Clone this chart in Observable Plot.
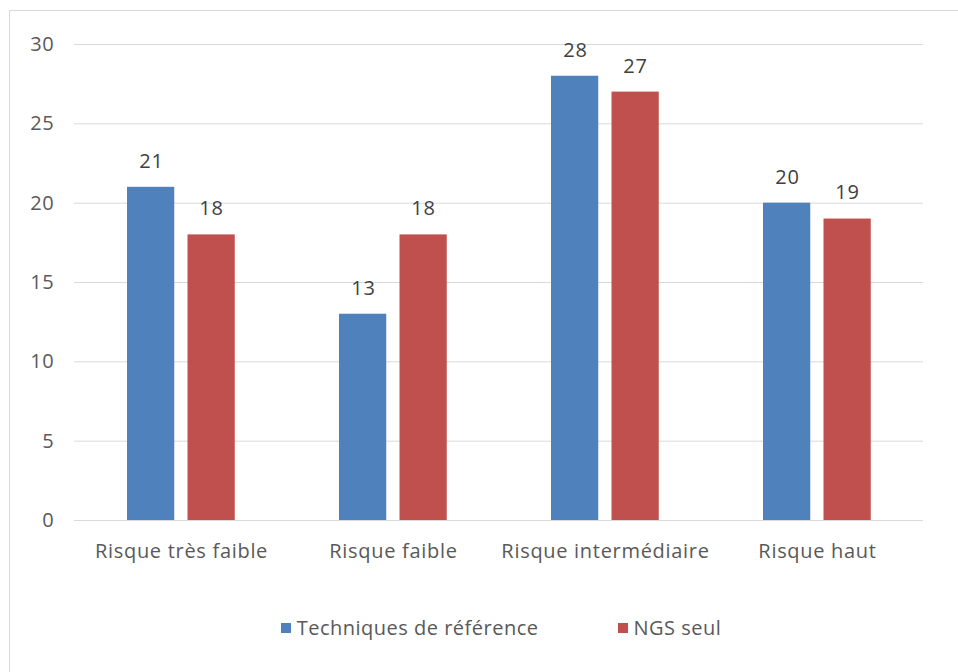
<!DOCTYPE html>
<html>
<head>
<meta charset="utf-8">
<script src="https://cdn.jsdelivr.net/npm/d3@7"></script>
<script src="https://cdn.jsdelivr.net/npm/@observablehq/plot@0.6"></script>
<style>
  html, body { margin: 0; padding: 0; background: #fff; overflow: hidden; width: 958px; height: 672px; }
  #frame { position: absolute; left: 9px; top: 10px; width: 1000px; height: 700px; border: 1px solid #d9d9d9; box-sizing: border-box; }
  #chart { position: absolute; left: 0; top: 0; }
  #legend { position: absolute; left: 0; top: 614px; width: 958px; box-sizing: border-box; padding-left: 44px;
            display: flex; justify-content: center; gap: 79px;
            font-family: "Open Sans", sans-serif; font-size: 20px; color: #595959; line-height: 28px; letter-spacing: 0.5px; }
  .item { display: flex; align-items: center; gap: 6px; }
  .sw { width: 10px; height: 10px; display: inline-block; }
</style>
</head>
<body>
<div id="frame"></div>
<div id="chart"></div>
<div id="legend"></div>
<script>
const categories = ["Risque très faible", "Risque faible", "Risque intermédiaire", "Risque haut"];
const seriesNames = ["Techniques de référence", "NGS seul"];
const reference = [21, 13, 28, 20];
const ngs = [18, 18, 27, 19];
const yTicks = [0, 5, 10, 15, 20, 25, 30];
const colors = ["#4F81BD", "#C0504D"];

const refData = categories.map((c, i) => ({category: c, value: reference[i]}));
const ngsData = categories.map((c, i) => ({category: c, value: ngs[i]}));

const font = "'Open Sans', sans-serif";

const chart = Plot.plot({
  width: 958,
  height: 580,
  marginLeft: 74,
  marginRight: 35,
  marginTop: 44,
  marginBottom: 60,
  style: {fontFamily: font, fontSize: "20px", color: "#595959", background: "transparent", letterSpacing: "0.7px"},
  x: {domain: categories, padding: 0, label: null},
  y: {domain: [0, 30], label: null},
  marks: [
    Plot.gridY(yTicks, {stroke: "#d9d9d9", strokeOpacity: 1}),
    Plot.axisY(yTicks, {tickSize: 0, tickPadding: 20, fontSize: 20, fill: "#595959", label: null}),
    Plot.axisX({tickSize: 0, tickPadding: 23, fontSize: 20, fill: "#595959", label: null}),
    Plot.barY(refData, {x: "category", y: "value", fill: colors[0], insetLeft: 52, insetRight: 112.75}),
    Plot.barY(ngsData, {x: "category", y: "value", fill: colors[1], insetLeft: 112.5, insetRight: 52.25}),
    Plot.text(refData, {x: "category", y: "value", text: d => String(d.value), dx: -30, dy: -26, fill: "#404040", fontSize: 20}),
    Plot.text(ngsData, {x: "category", y: "value", text: d => String(d.value), dx: 30, dy: -26, fill: "#404040", fontSize: 20})
  ]
});
document.getElementById("chart").appendChild(chart);

const legend = document.getElementById("legend");
seriesNames.forEach((name, i) => {
  const item = document.createElement("div");
  item.className = "item";
  const sw = document.createElement("span");
  sw.className = "sw";
  sw.style.background = colors[i];
  const label = document.createElement("span");
  label.textContent = name;
  item.appendChild(sw);
  item.appendChild(label);
  legend.appendChild(item);
});
</script>
</body>
</html>
